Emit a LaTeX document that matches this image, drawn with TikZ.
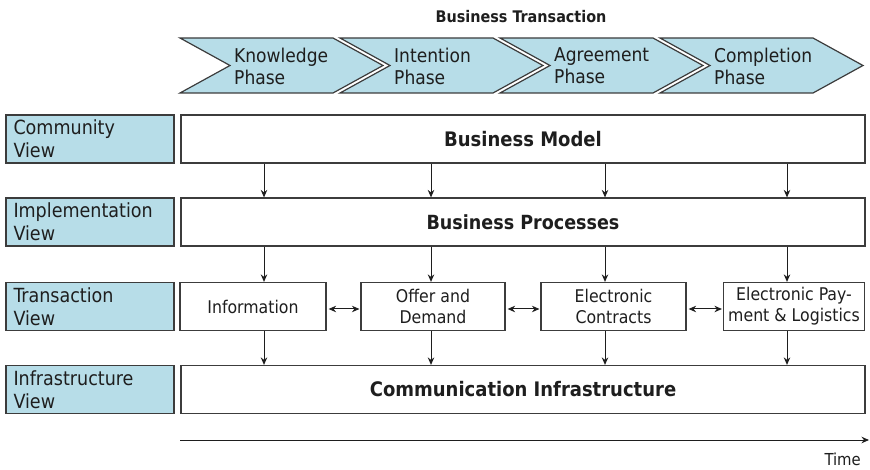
\documentclass[tikz,border=0pt]{standalone}
\usepackage{fontspec}
\setmainfont{DejaVu Sans Condensed}
\usetikzlibrary{arrows.meta}
\definecolor{lblue}{RGB}{183,221,232}
\definecolor{edge}{RGB}{60,60,60}
\definecolor{ink}{RGB}{30,30,30}
\begin{document}
\begin{tikzpicture}[x=1pt,y=-1pt,
  every node/.style={text=ink},
  lbl/.style={draw=edge,line width=1.2pt,fill=lblue,minimum width=168pt,minimum height=48pt,
    text width=153pt,align=left,inner sep=0pt,font=\fontsize{19.5}{23}\selectfont},
  wide/.style={draw=edge,line width=1.2pt,fill=white,minimum width=684pt,minimum height=48pt,inner sep=0pt},
  tbox/.style={draw=edge,line width=1.2pt,fill=white,minimum height=48pt,inner sep=0pt,
    align=center,font=\fontsize{17.5}{21}\selectfont},
  chev/.style={draw=edge,line width=1.2pt,fill=lblue},
  chevtxt/.style={anchor=west,align=left,inner sep=0pt,font=\fontsize{19}{22}\selectfont},
  varr/.style={draw=ink,line width=1pt,-{Stealth[length=7.5pt,width=6.5pt]}},
  harr/.style={draw=ink,line width=1pt,{Stealth[length=7.5pt,width=6.5pt]}-{Stealth[length=7.5pt,width=6.5pt]}},
]
\useasboundingbox (0,0) rectangle (870,470);

% title
\node[font=\bfseries\fontsize{16}{18}\selectfont] (title) at (521,17) {Business Transaction};

% chevrons
\foreach \i/\xl/\t in {1/180/{Knowledge\\Phase},2/340/{Intention\\Phase},3/500/{Agreement\\Phase},4/660/{Completion\\Phase}}{
  \draw[chev] (\xl,38) -- (\xl+153,38) -- (\xl+203,65.5) -- (\xl+153,93) -- (\xl,93) -- (\xl+50,65.5) -- cycle;
  \node[chevtxt] (ph\i) at (\xl+54,66) {\t};
}

% left labels
\node[lbl] (cv) at (90,139) {Community\\View};
\node[lbl] (iv) at (90,222) {Implementation\\View};
\node[lbl] (tv) at (90,306.5) {Transaction\\View};
\node[lbl] (fv) at (90,389.5) {Infrastructure\\View};

% wide boxes
\node[wide,font=\bfseries\fontsize{20}{22}\selectfont] (bm) at (523,139) {Business Model};
\node[wide,font=\bfseries\fontsize{19.5}{22}\selectfont] (bp) at (523,222) {Business Processes};
\node[wide,font=\bfseries\fontsize{20}{22}\selectfont] (ci) at (523,389.5) {Communication Infrastructure};

% transaction boxes
\node[tbox,minimum width=146pt] (inf) at (253,306.5) {Information};
\node[tbox,minimum width=144pt] (od) at (433,306.5) {Offer and\\Demand};
\node[tbox,minimum width=145pt] (ec) at (613.5,306.5) {Electronic\\Contracts};
\node[tbox,minimum width=141pt] (ep) at (794,306.5) {Electronic Pay-\\ment \& Logistics};

% vertical arrows
\coordinate (a1) at (264,0);
\coordinate (a2) at (431,0);
\coordinate (a3) at (605,0);
\coordinate (a4) at (787,0);
\foreach \c in {a1,a2,a3,a4}{
  \draw[varr] (bm.south -| \c) -- (bp.north -| \c);
}
\draw[varr] (bp.south -| a1) -- (inf.north -| a1);
\draw[varr] (bp.south -| a2) -- (od.north -| a2);
\draw[varr] (bp.south -| a3) -- (ec.north -| a3);
\draw[varr] (bp.south -| a4) -- (ep.north -| a4);
\draw[varr] (inf.south -| a1) -- (ci.north -| a1);
\draw[varr] (od.south -| a2) -- (ci.north -| a2);
\draw[varr] (ec.south -| a3) -- (ci.north -| a3);
\draw[varr] (ep.south -| a4) -- (ci.north -| a4);

% horizontal double arrows
\coordinate (hy) at (0,309);
\draw[harr] ([xshift=2pt]inf.east |- hy) -- ([xshift=-1pt]od.west |- hy);
\draw[harr] ([xshift=2pt]od.east |- hy) -- ([xshift=-1pt]ec.west |- hy);
\draw[harr] ([xshift=2pt]ec.east |- hy) -- ([xshift=-1pt]ep.west |- hy);

% time axis
\coordinate (t0) at (180,440);
\coordinate (t1) at (869,440);
\draw[varr] (t0) -- (t1);
\node[anchor=east,font=\fontsize{16.5}{18}\selectfont,inner sep=0pt] (time) at (861,459) {Time};
\end{tikzpicture}
\end{document}
